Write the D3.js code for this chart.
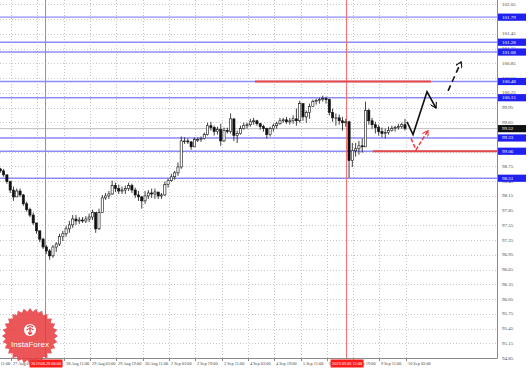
<!DOCTYPE html>
<html>
<head>
<meta charset="utf-8">
<script src="https://cdn.jsdelivr.net/npm/d3@7"></script>
<style>
  html, body { margin: 0; padding: 0; background: #fff; }
  svg { display: block; }
</style>
</head>
<body>
<div id="chart"></div>
<script>
// 2-hour candles, hour index 0 = 26 Aug 20:00
const FIRST_OPEN = 98.70;

const HIGHS = [
  98.72, 98.70, 98.58, 98.46, 98.34, 98.30, 98.30, 98.19, 98.03, 97.91,
  97.81, 97.60, 97.44, 97.30, 97.15, 97.07, 97.15, 97.21, 97.38, 97.44,
  97.54, 97.64, 97.76, 97.76, 97.72, 97.72, 97.74, 97.79, 97.87, 97.81,
  97.89, 98.17, 98.21, 98.25, 98.46, 98.42, 98.38, 98.34, 98.36, 98.42,
  98.40, 98.32, 98.25, 98.15, 98.25, 98.27, 98.30, 98.30, 98.23, 98.21,
  98.44, 98.50, 98.60, 98.66, 98.83, 99.36, 99.34, 99.32, 99.27, 99.34,
  99.34, 99.36, 99.44, 99.64, 99.66, 99.58, 99.56, 99.62, 99.54, 99.54,
  99.83, 99.72, 99.48, 99.58, 99.64, 99.64, 99.72, 99.74, 99.70, 99.64,
  99.60, 99.54, 99.56, 99.62, 99.66, 99.74, 99.74, 99.76, 99.74, 99.79,
  99.93, 100.09, 100.01, 99.89, 100.03, 100.11, 100.13, 100.15, 100.19, 100.17,
  100.13, 99.93, 99.83, 99.81, 99.76, 99.72, 99.68, 99.23, 99.23, 99.27,
  99.32, 100.07, 99.93, 99.74, 99.66, 99.60, 99.54, 99.52, 99.56, 99.58,
  99.58, 99.62, 99.64, 99.72
];

const LOWS = [
  98.62, 98.54, 98.40, 98.21, 98.05, 98.15, 98.13, 97.95, 97.83, 97.72,
  97.56, 97.38, 97.21, 97.07, 96.97, 96.85, 96.89, 97.01, 97.13, 97.23,
  97.32, 97.40, 97.50, 97.56, 97.58, 97.60, 97.60, 97.62, 97.66, 97.40,
  97.46, 97.81, 98.07, 98.09, 98.17, 98.23, 98.19, 98.19, 98.19, 98.25,
  98.21, 98.11, 98.05, 97.89, 97.99, 98.09, 98.11, 98.09, 98.09, 98.09,
  98.15, 98.32, 98.44, 98.48, 98.56, 98.70, 99.21, 99.21, 99.09, 99.17,
  99.25, 99.25, 99.30, 99.38, 99.48, 99.38, 99.40, 99.17, 99.25, 99.42,
  99.42, 99.27, 99.23, 99.40, 99.50, 99.52, 99.56, 99.60, 99.58, 99.50,
  99.46, 99.32, 99.36, 99.46, 99.52, 99.60, 99.64, 99.62, 99.60, 99.62,
  99.58, 99.64, 99.68, 99.64, 99.72, 99.97, 100.01, 100.03, 100.07, 100.03,
  99.79, 99.66, 99.58, 99.60, 99.48, 99.56, 98.52, 98.74, 98.95, 98.99,
  99.03, 99.64, 99.60, 99.52, 99.42, 99.38, 99.34, 99.32, 99.40, 99.46,
  99.46, 99.50, 99.52, 99.48
];

const CLOSES = [
  98.66, 98.58, 98.44, 98.27, 98.13, 98.25, 98.17, 97.99, 97.87, 97.76,
  97.60, 97.44, 97.27, 97.11, 97.03, 96.93, 97.11, 97.17, 97.32, 97.38,
  97.48, 97.56, 97.68, 97.64, 97.66, 97.64, 97.68, 97.72, 97.81, 97.48,
  97.81, 98.11, 98.15, 98.19, 98.36, 98.30, 98.25, 98.27, 98.30, 98.36,
  98.27, 98.17, 98.13, 98.05, 98.15, 98.21, 98.19, 98.23, 98.15, 98.17,
  98.38, 98.46, 98.54, 98.62, 98.74, 99.27, 99.27, 99.25, 99.15, 99.30,
  99.30, 99.32, 99.40, 99.58, 99.54, 99.46, 99.50, 99.27, 99.48, 99.46,
  99.72, 99.38, 99.42, 99.52, 99.58, 99.60, 99.66, 99.68, 99.62, 99.56,
  99.52, 99.40, 99.52, 99.58, 99.62, 99.68, 99.70, 99.66, 99.68, 99.72,
  99.68, 100.03, 99.76, 99.85, 99.97, 100.07, 100.09, 100.11, 100.13, 100.11,
  99.85, 99.74, 99.74, 99.68, 99.64, 99.66, 98.87, 99.07, 99.11, 99.17,
  99.15, 99.89, 99.68, 99.60, 99.54, 99.46, 99.42, 99.44, 99.48, 99.52,
  99.54, 99.56, 99.60, 99.52
];

const PRICE_LABELS = [
  '102.05', '101.75', '101.45', '101.15', '100.85', '100.55', '100.25',
  '99.95', '99.65', '99.35', '99.05', '98.75', '98.45', '98.15', '97.85',
  '97.55', '97.25', '96.95', '96.65', '96.35', '96.05', '95.75', '95.45',
  '95.15', '94.85'
];

// one label every 16 hours, first one at hour -9
const TIME_LABELS = [
  '26 Aug 11:00', '27 Aug 03:00', '27 Aug 19:00', '28 Aug 11:00', '29 Aug 03:00',
  '29 Aug 19:00', '30 Aug 11:00', '2 Sep 03:00', '2 Sep 19:00', '3 Sep 11:00',
  '4 Sep 03:00', '4 Sep 19:00', '5 Sep 11:00', '6 Sep 03:00', '6 Sep 19:00',
  '9 Sep 11:00', '10 Sep 03:00'
];

const LEVELS = [101.79, 101.28, 101.08, 100.48, 100.15, 99.33, 99.06, 98.51];

const RED_LEVEL_PRICES = [100.48, 99.06];
const RED_LEVEL_FROM   = [155.3, 227];
const RED_LEVEL_TO     = [262.3, 304];

const EVENT_HOURS  = [28, 211];
const EVENT_LABELS = ['2019.08.28 00:00', '2019.09.06 15:00'];

const FORECAST_MAIN = [[247.7, 99.66], [251.4, 99.40], [259.9, 100.27], [265.4, 99.94]];
const FORECAST_NEXT = [[272.7, 100.29], [280.6, 100.88]];
const FORECAST_ALT  = [[250.2, 99.32], [253.2, 99.09], [260.5, 99.48]];

(function () {
  'use strict';

  const W = 531, H = 369;
  const PLOT_R = 497, PLOT_B = 358;
  const FONT = "'Liberation Serif', 'Times New Roman', serif";

  const svg = d3.select('#chart').append('svg')
    .attr('width', W).attr('height', H)
    .style('background', '#fff');

  const defs = svg.append('defs');
  defs.append('clipPath').attr('id', 'plot-clip')
    .append('rect').attr('x', 0).attr('y', 0).attr('width', PLOT_R).attr('height', PLOT_B);

  function marker(id, color) {
    defs.append('marker')
      .attr('id', id)
      .attr('viewBox', '0 0 10 10')
      .attr('refX', 9).attr('refY', 5)
      .attr('markerWidth', 7).attr('markerHeight', 7)
      .attr('markerUnits', 'userSpaceOnUse')
      .attr('orient', 'auto')
      .append('path')
        .attr('d', 'M1,0 L9,5 L1,10')
        .attr('fill', 'none')
        .attr('stroke', color)
        .attr('stroke-width', 1.6);
  }
  marker('arrow-black', '#111');
  marker('arrow-red', '#ee3030');

  const y = d3.scaleLinear().domain([94.85, 102.05]).range([358, 4.4]);
  const x = d3.scaleLinear().domain([7, 247]).range([11, 405.8]);

  // candles from the arrays
  const candles = CLOSES.map((c, i) => {
    const o = i === 0 ? FIRST_OPEN : CLOSES[i - 1];
    return {
      t: i * 2 + 0.5,
      o, c,
      h: Math.max(HIGHS[i], o, c),
      l: Math.min(LOWS[i], o, c),
    };
  });

  // grid
  const grid = svg.append('g').attr('class', 'grid');
  grid.selectAll('line.hg')
    .data(PRICE_LABELS)
    .join('line')
      .attr('x1', 0).attr('x2', PLOT_R)
      .attr('y1', d => Math.round(y(+d)) + 0.5)
      .attr('y2', d => Math.round(y(+d)) + 0.5)
      .attr('stroke', '#c8c8c8')
      .attr('stroke-dasharray', '1,2');

  grid.selectAll('line.vg')
    .data(TIME_LABELS)
    .join('line')
      .attr('x1', (d, j) => Math.round(x(-9 + 16 * j)) + 0.5)
      .attr('x2', (d, j) => Math.round(x(-9 + 16 * j)) + 0.5)
      .attr('y1', 0).attr('y2', PLOT_B)
      .attr('stroke', '#c8c8c8')
      .attr('stroke-dasharray', '1,2');

  const plot = svg.append('g').attr('clip-path', 'url(#plot-clip)');

  // current price line
  const last = CLOSES[CLOSES.length - 1];
  plot.append('line')
    .attr('x1', 0).attr('x2', PLOT_R)
    .attr('y1', y(last)).attr('y2', y(last))
    .attr('stroke', '#bdbdbd').attr('stroke-width', 1);

  // blue levels
  plot.selectAll('line.level')
    .data(LEVELS)
    .join('line')
      .attr('x1', 0).attr('x2', PLOT_R)
      .attr('y1', d => y(d)).attr('y2', d => y(d))
      .attr('stroke', '#8c8cf5')
      .attr('stroke-width', 1.4);

  // event lines
  plot.selectAll('line.event')
    .data(EVENT_HOURS)
    .join('line')
      .attr('x1', d => x(d)).attr('x2', d => x(d))
      .attr('y1', 0).attr('y2', PLOT_B)
      .attr('stroke', '#f36a6a')
      .attr('stroke-width', 1);

  // red levels
  plot.selectAll('line.red')
    .data(RED_LEVEL_PRICES)
    .join('line')
      .attr('x1', (d, i) => x(RED_LEVEL_FROM[i]))
      .attr('x2', (d, i) => x(RED_LEVEL_TO[i]))
      .attr('y1', d => y(d)).attr('y2', d => y(d))
      .attr('stroke', '#e84848')
      .attr('stroke-width', 2);

  // candles
  const bw = 2.2;
  const cg = plot.selectAll('g.candle')
    .data(candles)
    .join('g')
      .attr('class', 'candle');

  cg.append('line')
    .attr('x1', d => x(d.t)).attr('x2', d => x(d.t))
    .attr('y1', d => y(d.h)).attr('y2', d => y(d.l))
    .attr('stroke', '#111').attr('stroke-width', 0.8);

  cg.append('rect')
    .attr('x', d => x(d.t) - bw / 2)
    .attr('width', bw)
    .attr('y', d => y(Math.max(d.o, d.c)))
    .attr('height', d => Math.max(0.8, Math.abs(y(d.o) - y(d.c))))
    .attr('fill', d => d.c >= d.o ? '#fff' : '#111')
    .attr('stroke', '#111')
    .attr('stroke-width', 0.6);

  // forecast arrows
  const line = d3.line().x(d => x(d[0])).y(d => y(d[1]));

  plot.append('path')
    .attr('d', line(FORECAST_MAIN))
    .attr('fill', 'none')
    .attr('stroke', '#111')
    .attr('stroke-width', 1.6)
    .attr('marker-end', 'url(#arrow-black)');

  plot.append('path')
    .attr('d', line(FORECAST_NEXT))
    .attr('fill', 'none')
    .attr('stroke', '#111')
    .attr('stroke-width', 1.6)
    .attr('stroke-dasharray', '6,4')
    .attr('marker-end', 'url(#arrow-black)');

  plot.append('path')
    .attr('d', line(FORECAST_ALT))
    .attr('fill', 'none')
    .attr('stroke', '#ee3030')
    .attr('stroke-width', 1.4)
    .attr('stroke-dasharray', '4,2')
    .attr('marker-end', 'url(#arrow-red)');

  // axes frame
  svg.append('line')
    .attr('x1', PLOT_R + 0.5).attr('x2', PLOT_R + 0.5)
    .attr('y1', 0).attr('y2', PLOT_B + 0.5)
    .attr('stroke', '#8a8a8a').attr('stroke-width', 1);
  svg.append('line')
    .attr('x1', 0).attr('x2', PLOT_R + 0.5)
    .attr('y1', PLOT_B + 0.5).attr('y2', PLOT_B + 0.5)
    .attr('stroke', '#8a8a8a').attr('stroke-width', 1);

  // price labels
  svg.selectAll('text.price')
    .data(PRICE_LABELS)
    .join('text')
      .attr('x', 502)
      .attr('y', d => y(+d))
      .attr('dominant-baseline', 'central')
      .attr('font-family', FONT)
      .attr('font-size', '5px')
      .attr('fill', '#444')
      .text(d => d);

  // time labels
  const tg = svg.selectAll('g.time')
    .data(TIME_LABELS)
    .join('g')
      .attr('transform', (d, j) => `translate(${Math.round(x(-9 + 16 * j)) + 0.5},${PLOT_B})`);
  tg.append('line')
    .attr('y1', 0).attr('y2', 3)
    .attr('stroke', '#8a8a8a');
  tg.append('text')
    .attr('x', 1.5).attr('y', 5.5)
    .attr('dominant-baseline', 'central')
    .attr('font-family', FONT)
    .attr('font-size', '4.3px')
    .attr('fill', '#444')
    .text(d => d);

  // level tags on price axis
  const tags = svg.selectAll('g.tag')
    .data(LEVELS)
    .join('g')
      .attr('transform', d => `translate(498,${y(d)})`);
  tags.append('rect')
    .attr('x', 0).attr('y', -3.6)
    .attr('width', 28).attr('height', 7.2)
    .attr('fill', '#2020f0');
  tags.append('text')
    .attr('x', 4).attr('y', 0)
    .attr('dominant-baseline', 'central')
    .attr('font-family', FONT)
    .attr('font-size', '5px')
    .attr('fill', '#fff')
    .text(d => d.toFixed(2));

  // current price tag
  const cur = svg.append('g').attr('transform', `translate(498,${y(last)})`);
  cur.append('rect')
    .attr('x', 0).attr('y', -3.6)
    .attr('width', 28).attr('height', 7.2)
    .attr('fill', '#111');
  cur.append('text')
    .attr('x', 4).attr('y', 0)
    .attr('dominant-baseline', 'central')
    .attr('font-family', FONT)
    .attr('font-size', '5px')
    .attr('fill', '#fff')
    .text(last.toFixed(2));

  // event tags on time axis
  const ev = svg.selectAll('g.evtag')
    .data(EVENT_HOURS)
    .join('g')
      .attr('transform', d => `translate(${x(d)},${PLOT_B + 5.5})`);
  ev.append('rect')
    .attr('x', -16).attr('y', -4)
    .attr('width', 33).attr('height', 8)
    .attr('fill', '#ff1a1a');
  ev.append('text')
    .attr('x', 0.5).attr('y', 0)
    .attr('text-anchor', 'middle')
    .attr('dominant-baseline', 'central')
    .attr('font-family', FONT)
    .attr('font-size', '4.3px')
    .attr('fill', '#fff')
    .text((d, i) => EVENT_LABELS[i]);

  // InstaForex badge
  const badge = svg.append('g').attr('transform', 'translate(30,336)');
  const spikes = 28, rOut = 28, rIn = 24.5;
  const pts = d3.range(spikes * 2).map(i => {
    const a = Math.PI * i / spikes;
    const r = i % 2 ? rIn : rOut;
    return [Math.sin(a) * r, -Math.cos(a) * r];
  });
  badge.append('path')
    .attr('d', 'M' + pts.join('L') + 'Z')
    .attr('fill', '#e8383b')
    .attr('fill-opacity', 0.85);
  badge.append('circle')
    .attr('cx', 0).attr('cy', -6).attr('r', 6)
    .attr('fill', '#fff');
  badge.append('path')
    .attr('d', 'M-3,-9 Q0,-12 3,-9 M-3.5,-6 Q0,-9 3.5,-6 M0,-9 L0,-1.5 M-2,-3.5 L0,-1.5 L2,-3.5')
    .attr('fill', 'none')
    .attr('stroke', '#e8383b')
    .attr('stroke-width', 1.2);
  badge.append('text')
    .attr('x', 0).attr('y', 8)
    .attr('text-anchor', 'middle')
    .attr('dominant-baseline', 'central')
    .attr('font-family', "'Liberation Sans', Arial, sans-serif")
    .attr('font-size', '8px')
    .attr('fill', '#fff')
    .text('InstaForex');
})();
</script>
</body>
</html>
